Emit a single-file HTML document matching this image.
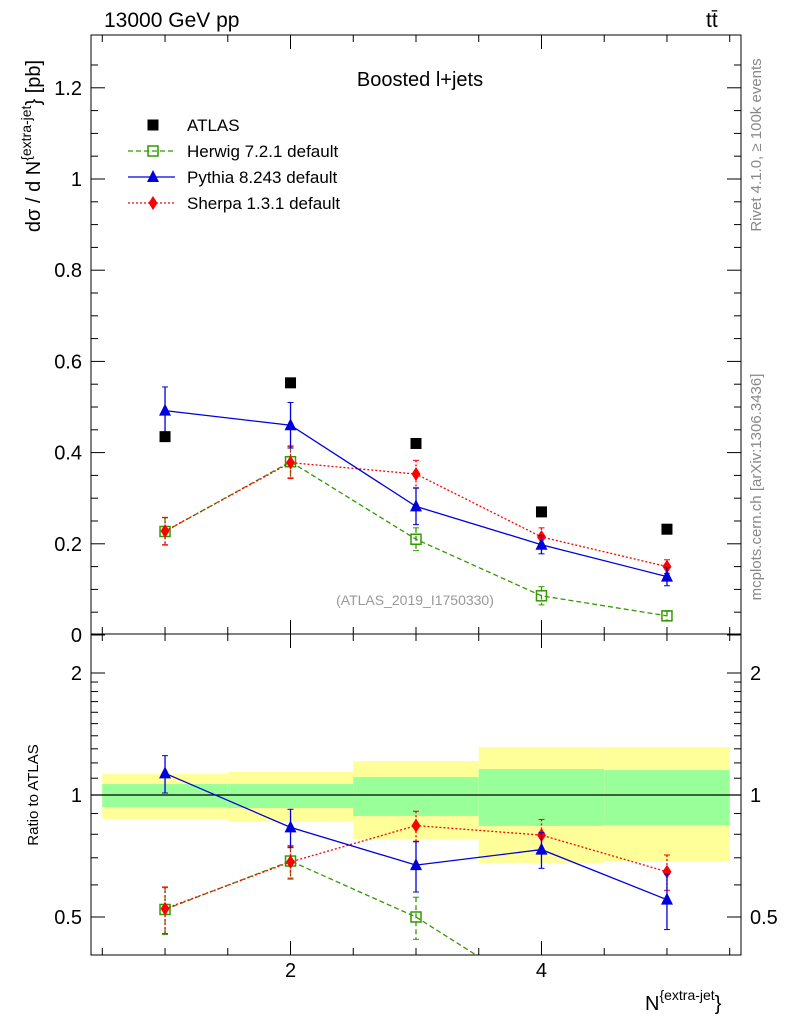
<!DOCTYPE html>
<html><head><meta charset="utf-8"><style>
html,body{margin:0;padding:0;background:#fff;overflow:hidden;width:786px;height:1024px;}
svg{font-family:"Liberation Sans",sans-serif;display:block;}
</style></head><body>
<svg id="c" width="786" height="1024" viewBox="0 0 786 1024" xmlns="http://www.w3.org/2000/svg">
<text x="104" y="27" font-size="21">13000 GeV pp</text>
<text x="706" y="27" font-size="21">tt̄</text>
<text x="420" y="86" font-size="20" text-anchor="middle">Boosted l+jets</text>
<text x="415" y="605" font-size="14" fill="#999" text-anchor="middle">(ATLAS_2019_I1750330)</text>
<text transform="translate(761,145) rotate(-90)" font-size="15" fill="#888" text-anchor="middle">Rivet 4.1.0, ≥ 100k events</text>
<text transform="translate(761,487) rotate(-90)" font-size="15" fill="#888" text-anchor="middle">mcplots.cern.ch [arXiv:1306.3436]</text>
<text transform="translate(40,146) rotate(-90)" font-size="20" text-anchor="middle">dσ / d N<tspan font-size="14" dy="-9">{extra-jet</tspan><tspan dy="9">} [pb]</tspan></text>
<text transform="translate(38,795) rotate(-90)" font-size="15" text-anchor="middle">Ratio to ATLAS</text>
<text x="645" y="1010" font-size="20">N<tspan font-size="14" dy="-10">{extra-jet</tspan><tspan dy="10">}</tspan></text>
<g id="g"></g>
</svg>
<script>
const categories=[1,2,3,4,5];
const atlas=[0.435,0.553,0.42,0.27,0.232];
const herwig=[0.227,0.38,0.21,0.086,0.042];
const herwigErr=[0.03,0.035,0.025,0.02,0.01];
const pythia=[0.492,0.46,0.282,0.198,0.128];
const pythiaErr=[0.052,0.05,0.04,0.02,0.02];
const sherpa=[0.228,0.378,0.353,0.215,0.15];
const sherpaErr=[0.03,0.035,0.03,0.02,0.015];
const yellowHi=[1.127,1.14,1.213,1.313,1.313];
const yellowLo=[0.873,0.858,0.779,0.68,0.687];
const greenHi=[1.064,1.064,1.108,1.159,1.152];
const greenLo=[0.934,0.929,0.888,0.839,0.843];
const yTicks=[0,0.2,0.4,0.6,0.8,1,1.2];
const rTicks=[0.5,1,2];
const xTicks=[2,4];

const NS="http://www.w3.org/2000/svg";
const g=document.getElementById('g');
const L=91,R=741,T=35,MB=634,RB=955;
const X=v=>L+(v-0.41)*(R-L)/5.18;
const Y=v=>635-v*456;
const RY=v=>795-Math.log2(v)*122;
function mk(t,a,p){const e=document.createElementNS(NS,t);for(const k in a)e.setAttribute(k,a[k]);(p||g).appendChild(e);return e;}
const defs=mk('defs',{});
const cp=mk('clipPath',{id:'rc'},defs);mk('rect',{x:L,y:MB,width:R-L,height:RB-MB},cp);
const cm=mk('clipPath',{id:'mc'},defs);mk('rect',{x:L,y:T,width:R-L,height:MB-T},cm);
for(let i=0;i<categories.length;i++){
 const x0=X(categories[i]-0.5),x1=X(categories[i]+0.5);
 let e=mk('rect',{x:x0,y:RY(yellowHi[i]),width:x1-x0,height:RY(yellowLo[i])-RY(yellowHi[i]),fill:'#ffff99'});
 
 
 e=mk('rect',{x:x0,y:RY(greenHi[i]),width:x1-x0,height:RY(greenLo[i])-RY(greenHi[i]),fill:'#99ff99'});
 
 
}
let ln=mk('line',{x1:L,x2:R,y1:RY(1),y2:RY(1),stroke:'#000','stroke-width':1.2});


let fr=mk('rect',{x:L,y:T,width:R-L,height:MB-T,fill:'none',stroke:'#000','stroke-width':1});


fr=mk('rect',{x:L,y:MB,width:R-L,height:RB-MB,fill:'none',stroke:'#000','stroke-width':1});


for(let v=0.5;v<=5.5;v+=0.5){
 const maj=Math.abs(v-Math.round(v))<1e-6&&Math.round(v)%2==0;
 const len=maj?14:7;
 [[T,1],[MB,-1],[MB,1],[RB,-1]].forEach(([y0,d])=>mk('line',{x1:X(v),x2:X(v),y1:y0,y2:y0+d*len,stroke:'#000'}));
}
xTicks.forEach(v=>{const t=mk('text',{x:X(v),y:977,'font-size':20,'text-anchor':'middle'});t.textContent=v;
 
 });
for(let v=0;v<=1.3;v+=0.05){const y=Y(v);if(y<T)break;const maj=Math.abs(v*5-Math.round(v*5))<1e-6;const len=maj?14:7;
 mk('line',{x1:L,x2:L+len,y1:y,y2:y,stroke:'#000'});mk('line',{x1:R,x2:R-len,y1:y,y2:y,stroke:'#000'});}
yTicks.forEach(v=>{const t=mk('text',{x:82,y:Y(v)+7,'font-size':20,'text-anchor':'end'});t.textContent=v==0?'0':String(v);
 
 });
const rminor=[0.4,0.5,0.6,0.7,0.8,0.9,1,1.1,1.2,1.3,1.4,1.5,1.6,1.7,1.8,1.9,2];
rminor.forEach(v=>{const y=RY(v);if(y>RB||y<MB)return;const maj=rTicks.includes(v);const len=maj?14:7;
 mk('line',{x1:L,x2:L+len,y1:y,y2:y,stroke:'#000'});mk('line',{x1:R,x2:R-len,y1:y,y2:y,stroke:'#000'});});
rTicks.forEach(v=>{let t=mk('text',{x:82,y:RY(v)+7,'font-size':20,'text-anchor':'end'});t.textContent=v;
 
 
 t=mk('text',{x:750,y:RY(v)+7,'font-size':20});t.textContent=v;
 
 });
function marker(type,x,y,col,p){
 if(type=='sq')return mk('rect',{x:x-5.5,y:y-5.5,width:11,height:11,fill:'#000'},p);
 if(type=='osq')return mk('rect',{x:x-5,y:y-5,width:10,height:10,fill:'none',stroke:col,'stroke-width':1.5},p);
 if(type=='tri')return mk('polygon',{points:`${x},${y-7} ${x-6},${y+5} ${x+6},${y+5}`,fill:col},p);
 if(type=='dia')return mk('polygon',{points:`${x},${y-7} ${x-4.5},${y} ${x},${y+7} ${x+4.5},${y}`,fill:col},p);
}
function series(name,vals,errs,col,dash,type,Yf,clip){
 const grp=mk('g',{'clip-path':clip});
 
 
 const pts=categories.map((c,i)=>X(c)+','+Yf(vals[i])).join(' ');
 mk('polyline',{points:pts,fill:'none',stroke:col,'stroke-width':1.3,'stroke-dasharray':dash},grp);
 categories.forEach((c,i)=>{const x=X(c);
  const y1=Yf(vals[i]+errs[i]),y2=Yf(Math.max(vals[i]-errs[i],0.01));
  mk('line',{x1:x,x2:x,y1:y1,y2:y2,stroke:col,'stroke-width':1.3,'stroke-dasharray':dash},grp);
  mk('line',{x1:x-3,x2:x+3,y1:y1,y2:y1,stroke:col},grp);mk('line',{x1:x-3,x2:x+3,y1:y2,y2:y2,stroke:col},grp);
  marker(type,x,Yf(vals[i]),col,grp);});
}
series('herwig-series',herwig,herwigErr,'#339900','5,3','osq',Y,'url(#mc)');
series('sherpa-series',sherpa,sherpaErr,'#ff0000','2,2','dia',Y,'url(#mc)');
series('pythia-series',pythia,pythiaErr,'#0000dd','','tri',Y,'url(#mc)');
const ag=mk('g',{});


categories.forEach((c,i)=>marker('sq',X(c),Y(atlas[i]),'#000',ag));
const rat=(a,e)=>[a.map((v,i)=>v/atlas[i]),e.map((v,i)=>v/atlas[i])];
let r=rat(herwig,herwigErr);series('herwig-ratio',r[0],r[1],'#339900','5,3','osq',RY,'url(#rc)');
r=rat(sherpa,sherpaErr);series('sherpa-ratio',r[0],r[1],'#ff0000','2,2','dia',RY,'url(#rc)');
r=rat(pythia,pythiaErr);series('pythia-ratio',r[0],r[1],'#0000dd','','tri',RY,'url(#rc)');
const leg=[['ATLAS','#000','','sq'],['Herwig 7.2.1 default','#339900','5,3','osq'],['Pythia 8.243 default','#0000dd','','tri'],['Sherpa 1.3.1 default','#ff0000','2,2','dia']];
leg.forEach((l,i)=>{const y=125+i*26;const lg=mk('g',{});
 
 
 if(i>0)mk('line',{x1:128,x2:175,y1:y,y2:y,stroke:l[1],'stroke-width':1.3,'stroke-dasharray':l[2]},lg);
 marker(l[3],153,y,l[1],lg);
 const t=mk('text',{x:187,y:y+6,'font-size':17},lg);t.textContent=l[0];});
</script>
</body></html>
